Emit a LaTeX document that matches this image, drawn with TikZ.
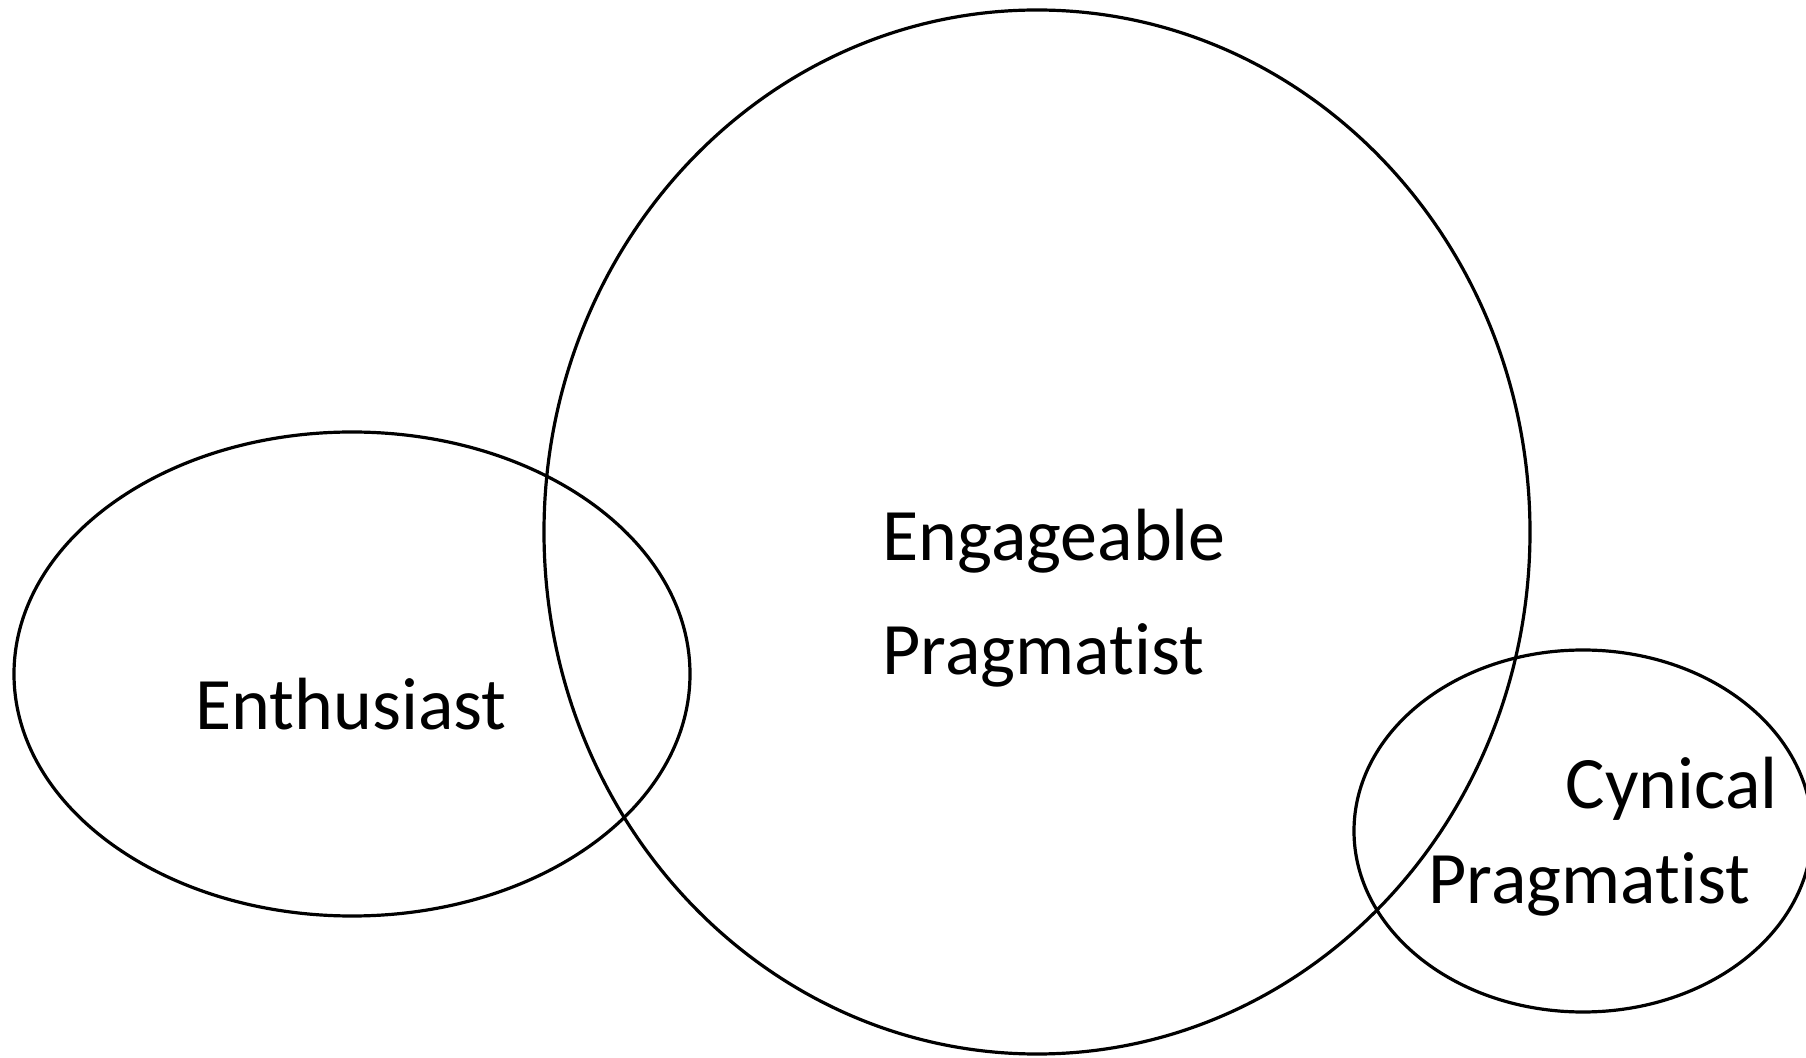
\documentclass[tikz,border=0pt]{standalone}
\usepackage{fontspec}
\setmainfont{Carlito}[Ligatures=CommonOff]
\begin{document}
\begin{tikzpicture}[x=0.5pt, y=-0.5pt, line width=1.6pt,
    every node/.style={inner sep=0pt, font=\fontsize{37}{45}\selectfont}]
  % 0. 画布范围 (与原图同比例)
  \useasboundingbox (0,0) rectangle (1806,1058);

  % 1. 三个集合 (椭圆)
  \draw (1037,532) ellipse [x radius=493, y radius=522];
  \draw (352,674) ellipse [x radius=338, y radius=242];
  \draw (1583,831) ellipse [x radius=229, y radius=181];

  % 2. 集合标签
  \node[anchor=base] (enth) at (351,730) {Enthusiast};
  \node[anchor=base west] (engage) at (881,561) {Engageable};
  \node[anchor=base west] (engprag) at (881,675) {Pragmatist};
  \node[anchor=base west] (cyn) at (1564,809) {Cynical};
  \node[anchor=base west] (cynprag) at (1427,904) {Pragmatist};
\end{tikzpicture}
\end{document}
